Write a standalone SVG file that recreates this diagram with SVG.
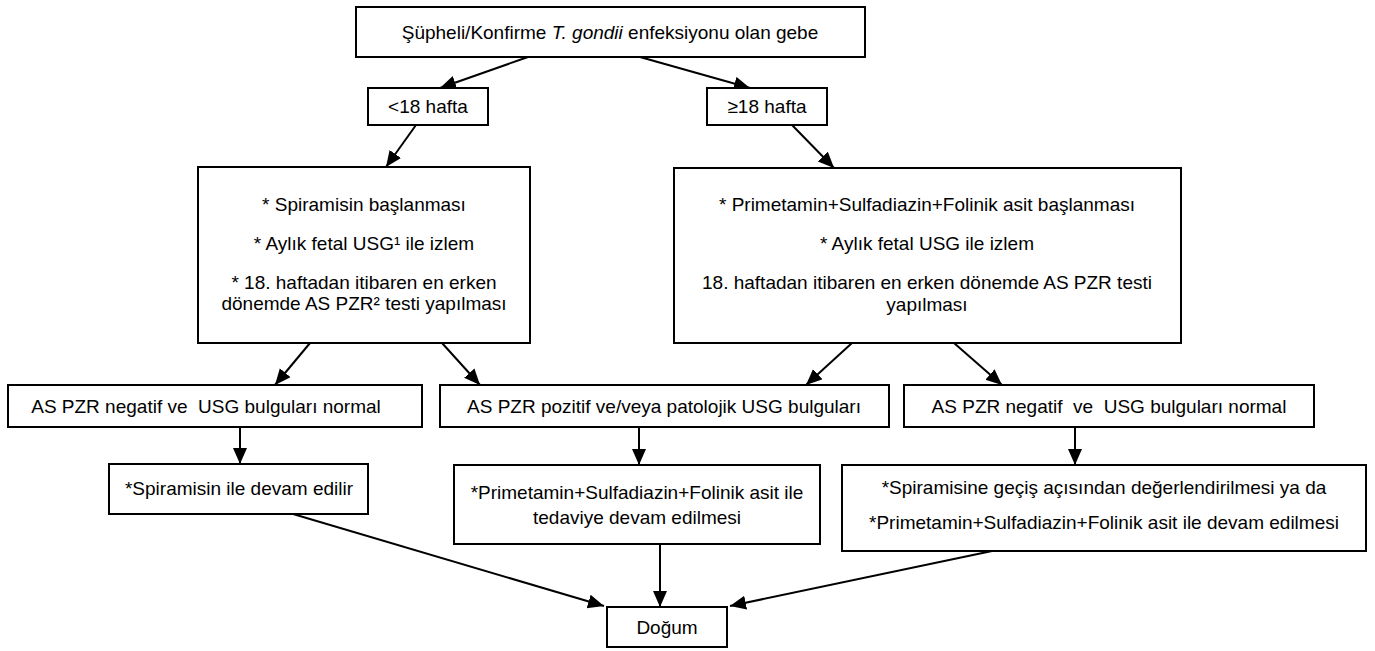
<svg xmlns="http://www.w3.org/2000/svg" width="1375" height="651" viewBox="0 0 1375 651">
<style>
.box{fill:#fff;stroke:#000;stroke-width:2}
.t{font-family:"Liberation Sans",Arial,sans-serif;font-size:19px;fill:#000;text-anchor:middle;white-space:pre}
.c{stroke:#000;stroke-width:2;fill:none;marker-end:url(#ah)}
</style>
<defs>
<marker id="ah" markerUnits="userSpaceOnUse" markerWidth="18" markerHeight="16" refX="16" refY="7" orient="auto">
<path d="M0,0 L16,7 L0,14 Z" fill="#000"/>
</marker>
</defs>
<rect width="1375" height="651" fill="#fff"/>
<g id="connectors">
<line class="c" x1="528" y1="57" x2="440" y2="88"/>
<line class="c" x1="640" y1="57" x2="750" y2="88"/>
<line class="c" x1="416" y1="125" x2="386" y2="167"/>
<line class="c" x1="792" y1="125" x2="834" y2="168"/>
<line class="c" x1="310" y1="343" x2="275" y2="385"/>
<line class="c" x1="442" y1="343" x2="480" y2="385"/>
<line class="c" x1="852" y1="343" x2="806" y2="385"/>
<line class="c" x1="954" y1="343" x2="1002" y2="385"/>
<line class="c" x1="240" y1="427" x2="240" y2="464"/>
<line class="c" x1="639" y1="427" x2="639" y2="465"/>
<line class="c" x1="1075" y1="427" x2="1075" y2="465"/>
<line class="c" x1="293" y1="514" x2="604" y2="606"/>
<line class="c" x1="660" y1="544" x2="660" y2="607"/>
<line class="c" x1="992" y1="551" x2="730" y2="606"/>
</g>
<g id="n_start">
<rect class="box" x="356" y="7" width="509" height="50"/>
<text class="t" x="610" y="39">Şüpheli/Konfirme <tspan font-style="italic">T. gondii</tspan> enfeksiyonu olan gebe</text>
</g>
<g id="n_lt18">
<rect class="box" x="368" y="88" width="120" height="37"/>
<text class="t" x="428" y="113">&lt;18 hafta</text>
</g>
<g id="n_ge18">
<rect class="box" x="707" y="88" width="120" height="37"/>
<text class="t" x="767" y="113">≥18 hafta</text>
</g>
<g id="n_left_treat">
<rect class="box" x="198" y="167" width="332" height="176"/>
<text class="t" x="364" y="211">* Spiramisin başlanması</text>
<text class="t" x="364" y="250">* Aylık fetal USG¹ ile izlem</text>
<text class="t" x="364" y="289">* 18. haftadan itibaren en erken</text>
<text class="t" x="364" y="310">dönemde AS PZR² testi yapılması</text>
</g>
<g id="n_right_treat">
<rect class="box" x="674" y="168" width="507" height="175"/>
<text class="t" x="927" y="211">* Primetamin+Sulfadiazin+Folinik asit başlanması</text>
<text class="t" x="927" y="250">* Aylık fetal USG ile izlem</text>
<text class="t" x="927" y="289">18. haftadan itibaren en erken dönemde AS PZR testi</text>
<text class="t" x="927" y="311">yapılması</text>
</g>
<g id="n_neg_left">
<rect class="box" x="8" y="385" width="414" height="42"/>
<text class="t" x="206" y="413">AS PZR negatif ve  USG bulguları normal</text>
</g>
<g id="n_pos">
<rect class="box" x="440" y="385" width="449" height="42"/>
<text class="t" x="664" y="413">AS PZR pozitif ve/veya patolojik USG bulguları</text>
</g>
<g id="n_neg_right">
<rect class="box" x="904" y="385" width="410" height="42"/>
<text class="t" x="1109" y="413">AS PZR negatif  ve  USG bulguları normal</text>
</g>
<g id="n_spira">
<rect class="box" x="109" y="464" width="259" height="50"/>
<text class="t" x="239" y="495">*Spiramisin ile devam edilir</text>
</g>
<g id="n_pyr">
<rect class="box" x="454" y="465" width="366" height="79"/>
<text class="t" x="637" y="499">*Primetamin+Sulfadiazin+Folinik asit ile</text>
<text class="t" x="637" y="524">tedaviye devam edilmesi</text>
</g>
<g id="n_switch">
<rect class="box" x="842" y="465" width="524" height="86"/>
<text class="t" x="1104" y="494">*Spiramisine geçiş açısından değerlendirilmesi ya da</text>
<text class="t" x="1104" y="529">*Primetamin+Sulfadiazin+Folinik asit ile devam edilmesi</text>
</g>
<g id="n_birth">
<rect class="box" x="607" y="607" width="120" height="40"/>
<text class="t" x="667" y="634">Doğum</text>
</g>
</svg>
